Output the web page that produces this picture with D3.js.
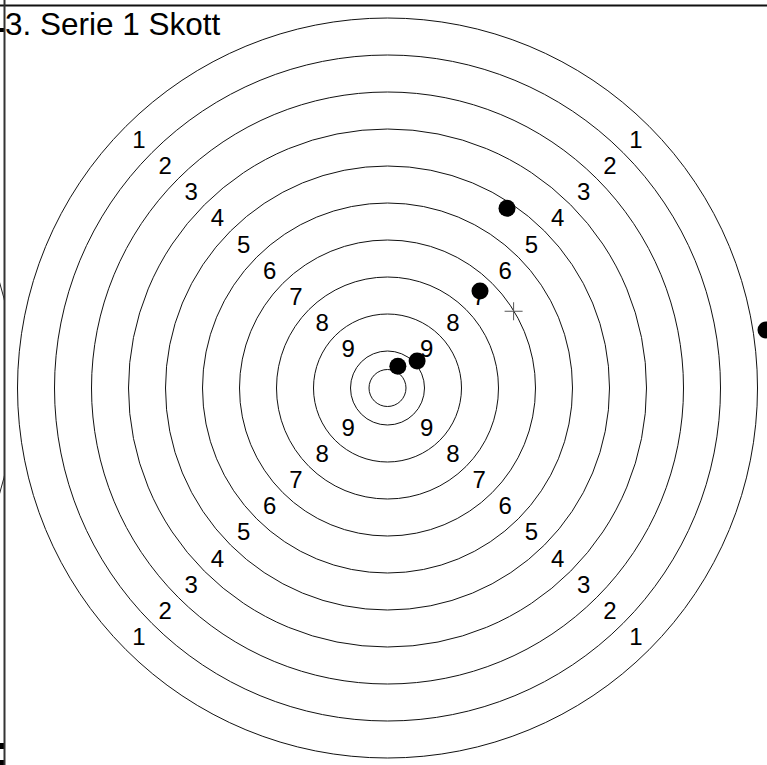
<!DOCTYPE html>
<html>
<head>
<meta charset="utf-8">
<script src="https://cdn.jsdelivr.net/npm/d3@7"></script>
<style>
  body { margin: 0; background: #fff; }
  svg { display: block; }
</style>
</head>
<body>
<script>
// ring radii in ring units (inner ten + rings 10..1)
const ringRadii = [0.5, 1, 2, 3, 4, 5, 6, 7, 8, 9, 10];
const ringLabels = [1, 2, 3, 4, 5, 6, 7, 8, 9];
// shot positions in ring units, y up
const shotX = [3.23, 2.50, 0.80, 0.28, 10.23];
const shotY = [4.86, 2.62, 0.73, 0.59, 1.57];
const title = '3. Serie 1 Skott';

const width = 767;
const height = 765;

const x = d3.scaleLinear().domain([-10, 10]).range([17.5, 757.5]);
const y = d3.scaleLinear().domain([-10, 10]).range([758, 18]);
const r = d3.scaleLinear().domain([0, 10]).range([0, 370]);

const svg = d3.select('body').append('svg')
  .attr('width', width)
  .attr('height', height);

// edge of the previous panel, clipped at the border
svg.append('clipPath').attr('id', 'prev')
  .append('rect').attr('x', 0).attr('y', 0).attr('width', 4).attr('height', height);
svg.append('circle')
  .attr('clip-path', 'url(#prev)')
  .attr('cx', x(0) - 742.5)
  .attr('cy', y(0))
  .attr('r', r(10))
  .attr('fill', 'none')
  .attr('stroke', '#222');
svg.append('rect').attr('x', 0).attr('y', 28).attr('width', 4).attr('height', 4).attr('fill', '#000');
svg.append('rect').attr('x', 0).attr('y', 743).attr('width', 4).attr('height', 6).attr('fill', '#000');
svg.append('rect').attr('x', 0).attr('y', 760).attr('width', 4).attr('height', 5).attr('fill', '#000');

const g = svg.append('g');

g.selectAll('circle.ring')
  .data(ringRadii)
  .join('circle')
    .attr('class', 'ring')
    .attr('cx', x(0))
    .attr('cy', y(0))
    .attr('r', d => r(d))
    .attr('fill', 'none')
    .attr('stroke', '#111')
    .attr('stroke-width', 1);

const dirs = [[-1, 1], [1, 1], [-1, -1], [1, -1]];
const labels = [];
dirs.forEach(([dx, dy]) => {
  ringLabels.forEach(n => {
    const rr = 10.5 - n;
    labels.push({ n, lx: dx * rr / Math.SQRT2, ly: dy * rr / Math.SQRT2 });
  });
});

g.selectAll('text.lab')
  .data(labels)
  .join('text')
    .attr('class', 'lab')
    .attr('x', d => x(d.lx))
    .attr('y', d => y(d.ly))
    .attr('text-anchor', 'middle')
    .attr('dominant-baseline', 'central')
    .attr('font-family', 'Liberation Sans, Arial, sans-serif')
    .attr('font-size', 24)
    .attr('fill', '#000')
    .text(d => d.n);

const shots = shotX.map((sx, i) => ({ sx, sy: shotY[i] }));

g.selectAll('circle.shot')
  .data(shots)
  .join('circle')
    .attr('class', 'shot')
    .attr('cx', d => x(d.sx))
    .attr('cy', d => y(d.sy))
    .attr('r', 8.5)
    .attr('fill', '#000');

// mean point of impact
const mx = d3.mean(shots, d => d.sx);
const my = d3.mean(shots, d => d.sy);
const cross = g.append('g')
  .attr('stroke', '#555')
  .attr('stroke-width', 1);
cross.append('line')
  .attr('x1', x(mx) - 9).attr('x2', x(mx) + 9)
  .attr('y1', y(my)).attr('y2', y(my));
cross.append('line')
  .attr('x1', x(mx)).attr('x2', x(mx))
  .attr('y1', y(my) - 9).attr('y2', y(my) + 9);

// panel borders
svg.append('line')
  .attr('x1', 0).attr('x2', width)
  .attr('y1', 5.5).attr('y2', 5.5)
  .attr('stroke', '#111').attr('stroke-width', 2);
svg.append('line')
  .attr('x1', 4.5).attr('x2', 4.5)
  .attr('y1', 0).attr('y2', height)
  .attr('stroke', '#333').attr('stroke-width', 2);

svg.append('text')
  .attr('x', 5)
  .attr('y', 35)
  .attr('font-family', 'Liberation Sans, Arial, sans-serif')
  .attr('font-size', 31.5)
  .attr('fill', '#000')
  .text(title);
</script>
</body>
</html>
